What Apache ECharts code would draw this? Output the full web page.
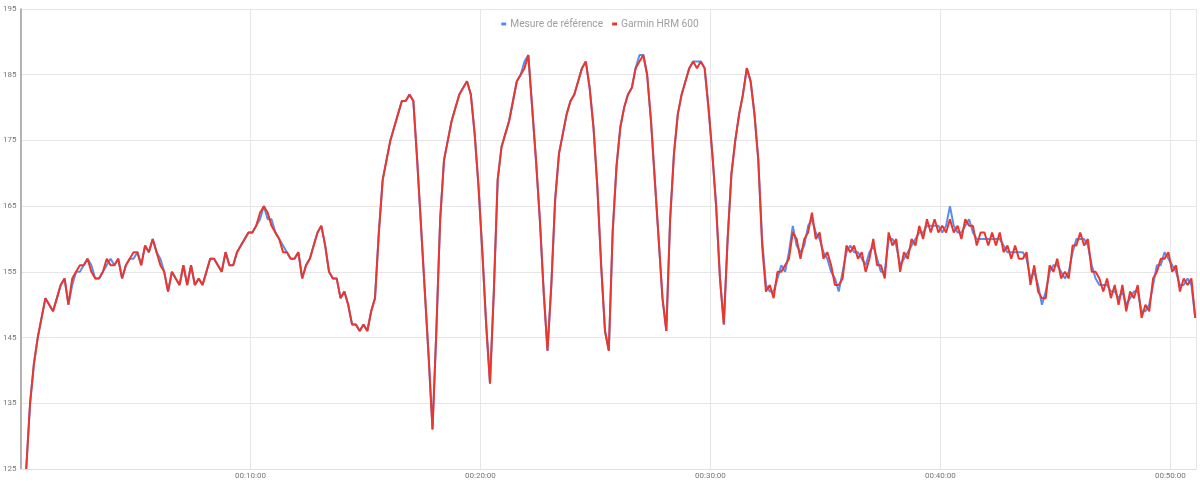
<!DOCTYPE html>
<html>
<head>
<meta charset="utf-8">
<script src="https://cdn.jsdelivr.net/npm/echarts@6/dist/echarts.min.js"></script>
<style>
html,body{margin:0;padding:0;background:#fff;}
#chart{width:1200px;height:482px;}
</style>
</head>
<body>
<div id="chart"></div>
<script>
// Time base: first sample at 15 s, one sample every 10 s (seconds since start)
var START_SEC = 15;
var STEP_SEC = 10;
var seriesNames = ['Mesure de référence', 'Garmin HRM 600'];
var yTicks = [125, 135, 145, 155, 165, 175, 185, 195];

// Reference measurement (bpm)
var reference = [
125,135,141,145,148,151,150,149,151,153,
154,150,153,155,155,156,157,156,154,154,
155,156,157,156,157,154,156,157,157,158,
156,159,158,160,158,157,155,152,155,154,
153,156,153,156,153,154,153,155,157,157,
156,155,158,156,156,158,159,160,161,161,
162,163,165,163,163,161,160,159,158,157,
157,158,154,156,157,159,161,162,159,155,
154,154,151,152,150,147,147,146,147,146,
149,151,161,169,172,175,177,179,181,181,
182,181,172,162,152,142,131,146,163,172,
175,178,180,182,183,184,182,176,168,158,
147,138,152,169,174,176,178,181,184,185,
187,188,180,172,163,152,143,153,166,173,
176,179,181,182,184,186,187,183,177,168,
156,146,143,161,171,177,180,182,183,186,
188,188,185,178,169,160,151,146,163,173,
179,182,184,186,187,187,187,186,180,173,
165,154,147,160,170,175,179,182,186,184,
179,172,160,153,152,152,154,156,155,158,
162,159,158,159,162,163,161,160,158,157,
155,154,152,155,158,159,158,158,157,156,
158,159,157,155,155,160,160,159,156,157,
158,159,160,161,161,162,162,162,162,161,
162,165,162,161,161,162,163,161,160,160,
160,160,160,160,160,159,158,158,158,158,
158,157,154,155,153,150,152,155,156,156,
155,154,155,158,160,160,160,159,156,154,
153,153,153,152,152,151,152,150,151,152,
152,149,149,150,153,156,156,158,157,156,
155,153,153,154,153,148
];

// Garmin HRM 600 (bpm)
var garmin = [
125,135,141,145,148,151,150,149,151,153,
154,150,154,155,156,156,157,155,154,154,
155,157,156,156,157,154,156,157,158,158,
156,159,158,160,158,156,155,152,155,154,
153,156,153,156,153,154,153,155,157,157,
156,155,158,156,156,158,159,160,161,161,
162,164,165,164,162,161,160,158,158,157,
157,158,154,156,157,159,161,162,159,155,
154,154,151,152,150,147,147,146,147,146,
149,151,161,169,172,175,177,179,181,181,
182,181,172,162,152,142,131,146,163,172,
175,178,180,182,183,184,182,176,168,158,
147,138,152,169,174,176,178,181,184,185,
186,188,180,172,163,152,143,153,166,173,
176,179,181,182,184,186,187,183,177,168,
156,146,143,161,171,177,180,182,183,186,
187,188,185,178,169,160,151,146,163,173,
179,182,184,186,187,186,187,186,180,173,
165,154,147,160,170,175,179,182,186,184,
179,172,159,152,153,151,155,155,156,157,
161,160,157,160,161,164,160,161,157,158,
156,153,153,154,159,158,159,157,158,155,
157,160,156,156,154,161,159,160,155,158,
157,160,159,162,160,163,161,163,161,162,
161,163,161,162,160,163,162,162,159,161,
161,159,161,159,161,158,159,157,159,157,
157,158,153,156,152,151,151,156,155,157,
154,155,154,159,159,161,159,160,155,155,
154,152,154,151,153,150,153,149,152,151,
153,148,150,149,154,155,157,157,158,155,
156,152,154,153,154,148
];

function toPairs(arr) {
  return arr.map(function (v, i) { return [START_SEC + i * STEP_SEC, v]; });
}
function fmtTime(sec) {
  if (sec === 0) return '';
  var h = Math.floor(sec / 3600), m = Math.floor((sec % 3600) / 60), s = Math.floor(sec % 60);
  function p(n) { return (n < 10 ? '0' : '') + n; }
  return p(h) + ':' + p(m) + ':' + p(s);
}

var chart = echarts.init(document.getElementById('chart'));
chart.setOption({
  animation: false,
  backgroundColor: '#ffffff',
  legend: {
    top: 14,
    left: 'center',
    itemWidth: 5,
    itemHeight: 3,
    itemGap: 9,
    icon: 'rect',
    textStyle: { color: '#9e9e9e', fontSize: 10.2, padding: [0, 0, 0, -1], fontFamily: 'Roboto, Arial, sans-serif' },
    data: seriesNames
  },
  grid: { left: 19, right: 4, top: 9, bottom: 13, containLabel: false },
  xAxis: {
    type: 'value',
    min: 0,
    max: 3067,
    interval: 600,
    axisLine: { show: true, lineStyle: { color: '#e0e0e0', width: 1 } },
    axisTick: { show: false },
    axisLabel: { formatter: fmtTime, color: '#777', fontSize: 8, margin: 3, fontFamily: 'Roboto, Arial, sans-serif' },
    splitLine: { show: true, lineStyle: { color: '#e6e6e6', width: 1 } }
  },
  yAxis: {
    type: 'value',
    min: yTicks[0],
    max: yTicks[yTicks.length - 1],
    interval: 10,
    axisLine: { show: true, lineStyle: { color: '#9e9e9e', width: 1.5 } },
    axisTick: { show: false },
    axisLabel: { color: '#777', fontSize: 8, margin: 4, fontFamily: 'Roboto, Arial, sans-serif' },
    splitLine: { show: true, lineStyle: { color: '#e6e6e6', width: 1 } }
  },
  series: [
    {
      name: seriesNames[0],
      type: 'line',
      data: toPairs(reference),
      showSymbol: false,
      color: '#5b8def',
      lineStyle: { width: 2, color: '#5b8def' },
      z: 2
    },
    {
      name: seriesNames[1],
      type: 'line',
      data: toPairs(garmin),
      showSymbol: false,
      color: '#e8372f',
      lineStyle: { width: 2, color: '#e8372f' },
      z: 3
    }
  ]
});
</script>
</body>
</html>
